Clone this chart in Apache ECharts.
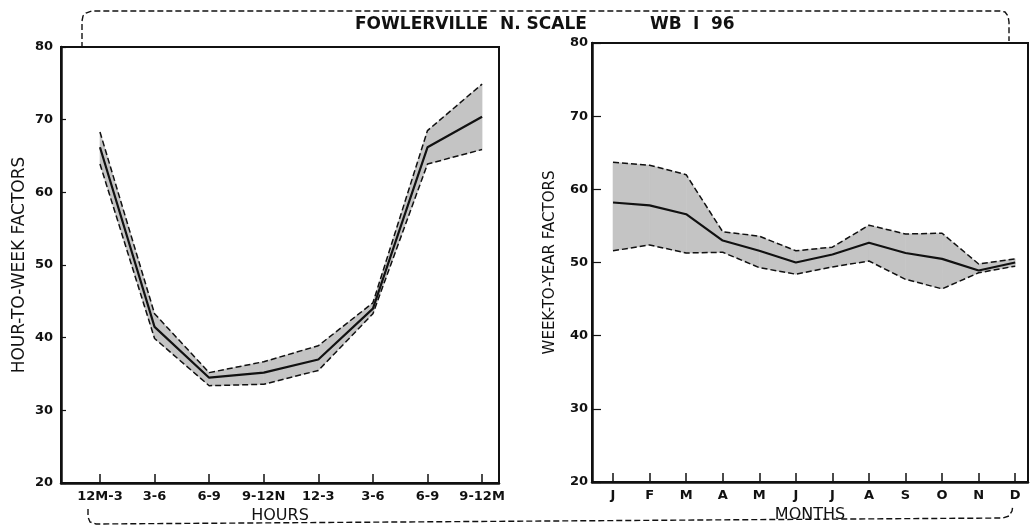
<!DOCTYPE html>
<html>
<head>
<meta charset="utf-8">
<script src="https://cdn.jsdelivr.net/npm/echarts@6/dist/echarts.min.js"></script>
<style>
  html, body { margin: 0; padding: 0; background: #fff; }
  #chart { width: 1030px; height: 529px; }
</style>
</head>
<body>
<div id="chart"></div>
<script>
  // hour-to-week factors
  var hours = ['12M-3', '3-6', '6-9', '9-12N', '12-3', '3-6', '6-9', '9-12M'];
  var hourUpper = [68.3, 43.3, 35.2, 36.7, 38.9, 44.8, 68.5, 74.9];
  var hourMid   = [66.2, 41.5, 34.5, 35.2, 37.0, 44.0, 66.2, 70.4];
  var hourLower = [63.9, 39.9, 33.4, 33.6, 35.5, 43.3, 63.9, 65.9];

  // week-to-year factors
  var months = ['J', 'F', 'M', 'A', 'M', 'J', 'J', 'A', 'S', 'O', 'N', 'D'];
  var monthUpper = [63.7, 63.3, 62.0, 54.2, 53.6, 51.6, 52.1, 55.1, 53.9, 54.0, 49.8, 50.5];
  var monthMid   = [58.2, 57.8, 56.6, 53.0, 51.6, 50.0, 51.1, 52.7, 51.3, 50.5, 48.9, 50.0];
  var monthLower = [51.6, 52.4, 51.3, 51.4, 49.3, 48.4, 49.4, 50.2, 47.7, 46.4, 48.6, 49.5];

  var yTicks = [20, 30, 40, 50, 60, 70, 80];

  var font = 'DejaVu Sans';
  var ink = '#111';

  function pairs(arr) {
    return arr.map(function (v, i) { return [i, v]; });
  }

  // shaded band between lower and upper, one quad per segment
  function band(upper, lower, axisIdx) {
    return {
      type: 'custom',
      xAxisIndex: axisIdx,
      yAxisIndex: axisIdx,
      silent: true,
      encode: { x: 0, y: [1, 2] },
      data: upper.map(function (v, i) { return [i, lower[i], v]; }),
      renderItem: function (params, api) {
        var i = params.dataIndex;
        if (i >= upper.length - 1) return null;
        var pts = [
          api.coord([i, upper[i]]),
          api.coord([i + 1, upper[i + 1]]),
          api.coord([i + 1, lower[i + 1]]),
          api.coord([i, lower[i]])
        ];
        return {
          type: 'polygon',
          shape: { points: pts },
          style: { fill: '#c4c4c4', stroke: '#c4c4c4', lineWidth: 0.6 }
        };
      },
      z: 1
    };
  }

  function line(arr, axisIdx, dashed) {
    return {
      type: 'line',
      xAxisIndex: axisIdx,
      yAxisIndex: axisIdx,
      data: pairs(arr),
      symbol: 'none',
      silent: true,
      lineStyle: {
        color: ink,
        width: dashed ? 1.5 : 2.2,
        type: dashed ? [6, 3] : 'solid'
      },
      z: 3
    };
  }

  function xAxis(idx, names, min, max, title, gap, labelMargin) {
    var ids = names.map(function (_, i) { return i; });
    return {
      type: 'value',
      gridIndex: idx,
      min: min,
      max: max,
      splitLine: { show: false },
      axisLine: { show: true, onZero: false, lineStyle: { color: ink, width: 2.5 } },
      axisTick: { show: true, inside: true, length: 9, customValues: ids, lineStyle: { color: ink, width: 1.5 } },
      axisLabel: {
        customValues: ids,
        margin: labelMargin,
        color: ink,
        fontFamily: font,
        fontSize: 13,
        fontWeight: 'bold',
        formatter: function (v) { return names[Math.round(v)]; }
      },
      name: title,
      nameLocation: 'middle',
      nameGap: gap,
      nameTextStyle: { color: ink, fontFamily: font, fontSize: 16 }
    };
  }

  function yAxis(idx, title, gap, labelMargin, tickLen, nameSize) {
    return {
      type: 'value',
      gridIndex: idx,
      min: 20,
      max: 80,
      interval: 10,
      splitLine: { show: false },
      axisLine: { show: true, onZero: false, lineStyle: { color: ink, width: 2.5 } },
      axisTick: { show: true, inside: true, length: tickLen, customValues: yTicks, lineStyle: { color: ink, width: 1.2 } },
      axisLabel: { margin: labelMargin, color: ink, fontFamily: font, fontSize: 13, fontWeight: 'bold', customValues: yTicks },
      name: title,
      nameLocation: 'middle',
      nameGap: gap,
      nameTextStyle: { color: ink, fontFamily: font, fontSize: nameSize }
    };
  }

  var bracketStyle = { fill: null, stroke: ink, lineWidth: 1.4, lineDash: [6, 3] };
  var titleFont = 'bold 17px "DejaVu Sans"';

  var chart = echarts.init(document.getElementById('chart'));
  chart.setOption({
    animation: false,
    backgroundColor: '#fff',
    grid: [
      { left: 61, top: 47, width: 438, height: 438, show: true, borderColor: ink, borderWidth: 2, backgroundColor: 'transparent' },
      { left: 592, top: 43, width: 436, height: 439, show: true, borderColor: ink, borderWidth: 2, backgroundColor: 'transparent' }
    ],
    xAxis: [
      xAxis(0, hours, -0.714, 7.31, 'HOURS', 23, 7),
      xAxis(1, months, -0.575, 11.35, 'MONTHS', 13, 7)
    ],
    yAxis: [
      yAxis(0, 'HOUR-TO-WEEK FACTORS', 33, 8, 5, 17),
      yAxis(1, 'WEEK-TO-YEAR FACTORS', 34, 4, 9, 15)
    ],
    graphic: [
      { type: 'text', x: 355, y: 16, style: { text: 'FOWLERVILLE  N. SCALE', fill: ink, font: titleFont } },
      { type: 'text', x: 650, y: 16, style: { text: 'WB', fill: ink, font: titleFont } },
      { type: 'text', x: 693, y: 16, style: { text: 'I', fill: ink, font: titleFont } },
      { type: 'text', x: 711, y: 16, style: { text: '96', fill: ink, font: titleFont } },
      {
        type: 'polyline',
        shape: { points: [[82, 48], [82, 21], [83, 16], [86, 13], [92, 11], [1000, 11], [1005, 12], [1008, 16], [1009, 22], [1009, 41]] },
        style: bracketStyle
      },
      {
        type: 'polyline',
        shape: { points: [[88, 509], [88, 517], [90, 522], [96, 524], [1003, 518], [1009, 516], [1012, 511], [1013, 505]] },
        style: bracketStyle
      }
    ],
    series: [
      band(hourUpper, hourLower, 0),
      line(hourUpper, 0, true),
      line(hourLower, 0, true),
      line(hourMid, 0, false),
      band(monthUpper, monthLower, 1),
      line(monthUpper, 1, true),
      line(monthLower, 1, true),
      line(monthMid, 1, false)
    ]
  });
</script>
</body>
</html>
